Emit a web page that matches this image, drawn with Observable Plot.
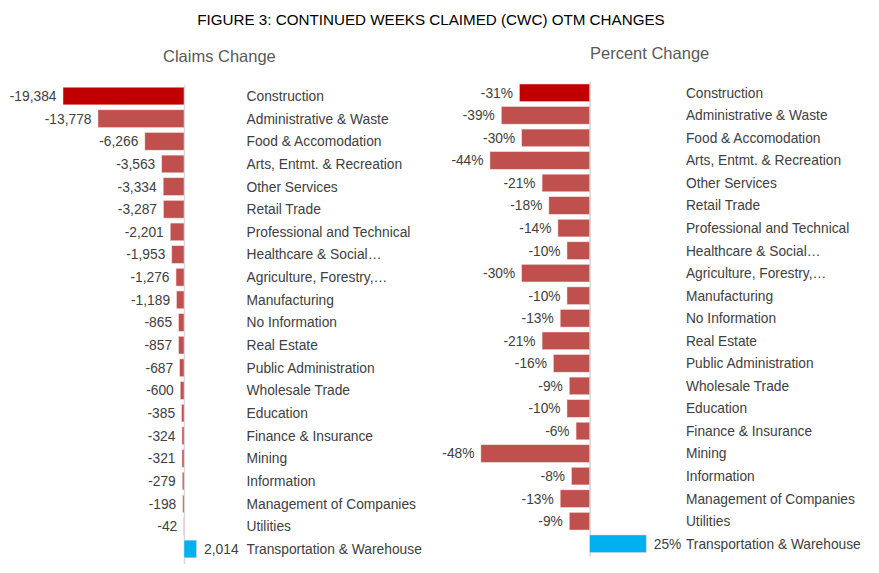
<!DOCTYPE html>
<html>
<head>
<meta charset="utf-8">
<script src="https://cdn.jsdelivr.net/npm/d3@7"></script>
<script src="https://cdn.jsdelivr.net/npm/@observablehq/plot@0.6"></script>
<style>
  html, body { margin: 0; padding: 0; background: #fff; }
  #wrap { position: relative; width: 879px; height: 573px; font-family: "Liberation Sans", Arial, sans-serif; }
  #title { position: absolute; left: 0; width: 862px; top: 11px; text-align: center; font-size: 15.2px; color: #000; }
  .sub { position: absolute; font-size: 16.5px; color: #595959; }
  .panel { position: absolute; top: 0; }
</style>
</head>
<body>
<div id="wrap">
  <div id="title">FIGURE 3: CONTINUED WEEKS CLAIMED (CWC) OTM CHANGES</div>
  <div class="sub" style="left:163px; top:47px;">Claims Change</div>
  <div class="sub" style="left:590px; top:44px;">Percent Change</div>
  <div class="panel" id="left" style="left:0;"></div>
  <div class="panel" id="right" style="left:440px;"></div>
</div>
<script>
const claimsCategories = [
  "Construction", "Administrative & Waste", "Food & Accomodation", "Arts, Entmt. & Recreation",
  "Other Services", "Retail Trade", "Professional and Technical", "Healthcare & Social…",
  "Agriculture, Forestry,…", "Manufacturing", "No Information", "Real Estate",
  "Public Administration", "Wholesale Trade", "Education", "Finance & Insurance",
  "Mining", "Information", "Management of Companies", "Utilities", "Transportation & Warehouse"
];
const claimsValues = [-19384, -13778, -6266, -3563, -3334, -3287, -2201, -1953, -1276, -1189,
  -865, -857, -687, -600, -385, -324, -321, -279, -198, -42, 2014];

const percentCategories = claimsCategories;
const percentValues = [-31, -39, -30, -44, -21, -18, -14, -10, -30, -10, -13, -21, -16, -9, -10, -6, -48, -8, -13, -9, 25];

const highlightCategory = "Construction";

const colors = { highlight: "#C00000", negative: "#C0504D", positive: "#00B0F0" };
const textColor = "#404040";
const fontSize = "13.8px";

function fillOf(d) {
  if (d.value > 0) return colors.positive;
  if (d.category === highlightCategory) return colors.highlight;
  return colors.negative;
}

function panel(cats, vals, fmt, opts) {
  const data = cats.map((c, i) => ({ category: c, value: vals[i] }));
  const minV = d3.min(vals);
  return Plot.plot({
    width: 440, height: 573,
    marginTop: opts.ruleTop, marginBottom: 573 - opts.ruleBottom,
    marginLeft: 0, marginRight: 440 - 246,
    style: { background: "transparent", fontFamily: "'Liberation Sans', Arial, sans-serif", fontSize: fontSize, color: textColor },
    x: { domain: [minV, 0], range: [opts.xMin, opts.xZero], axis: null },
    y: { domain: cats, range: opts.yRange, paddingInner: 0.22, paddingOuter: 0.11, round: false, axis: null },
    marks: [
      Plot.ruleX([0], { stroke: "#d9d9d9", strokeWidth: 1.5 }),
      Plot.barX(data, { x: "value", y: "category", fill: fillOf, stroke: "#f2dcdb", strokeWidth: 0.5 }),
      Plot.text(data.filter(d => d.value < 0), { x: "value", y: "category", text: d => fmt(d.value), textAnchor: "end", dx: -7, fill: textColor, fontSize: fontSize }),
      Plot.text(data.filter(d => d.value >= 0), { x: "value", y: "category", text: d => fmt(d.value), textAnchor: "start", dx: 7, fill: textColor, fontSize: fontSize }),
      Plot.axisY({ anchor: "right", tickSize: 0, tickPadding: 0, textAnchor: "start", label: null, fill: textColor, fontSize: fontSize })
    ]
  });
}

const fmtClaims = v => (v < 0 ? "-" : "") + d3.format(",")(Math.abs(v));
const fmtPct = v => `${v}%`;

document.getElementById("left").appendChild(panel(claimsCategories, claimsValues, fmtClaims, {
  xMin: 63, xZero: 184, yRange: [84.7, 560.3], ruleTop: 85, ruleBottom: 564
}));
document.getElementById("right").appendChild(panel(percentCategories, percentValues, fmtPct, {
  xMin: 41, xZero: 150, yRange: [81.7, 556.3], ruleTop: 82, ruleBottom: 558
}));
</script>
</body>
</html>
